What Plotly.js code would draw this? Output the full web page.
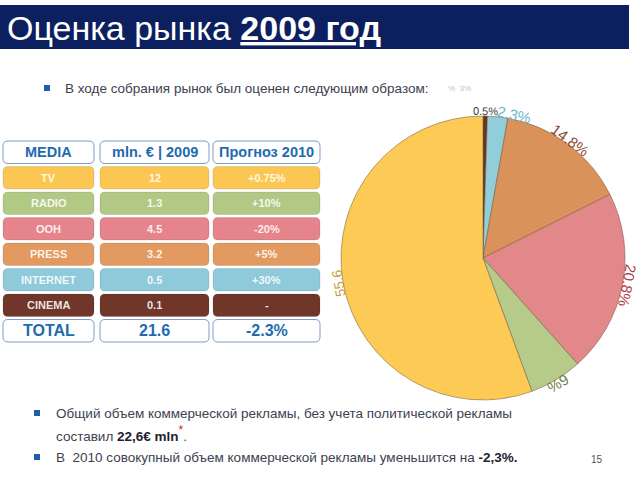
<!DOCTYPE html>
<html><head><meta charset="utf-8">
<script src="https://cdn.plot.ly/plotly-3.0.1.min.js"></script>
<style>html,body{margin:0;padding:0;background:#fff}#chart{width:640px;height:480px}</style>
</head><body><div id="chart"></div>
<script>
// ---- data ----
const media = ['TV', 'RADIO', 'OOH', 'PRESS', 'INTERNET', 'CINEMA'];
const mln2009 = ['12', '1.3', '4.5', '3.2', '0.5', '0.1'];
const forecast2010 = ['+0.75%', '+10%', '-20%', '+5%', '+30%', '-'];
const sharePct = [55.6, 6, 20.8, 14.8, 2.3, 0.5];
const shareText = ['55.6', '6%', '20.8%', '14.8%', '2.3%', '0.5%'];
const headers = ['MEDIA', 'mln. € | 2009', 'Прогноз 2010'];
const totals = ['TOTAL', '21.6', '-2.3%'];

// ---- styles ----
const rowColors = ['#FBC651', '#B2C885', '#E5848A', '#E39A60', '#8ECAD9', '#70362A'];
const pieColors = ['#FECA56', '#B6CB8A', '#E2888A', '#D9925A', '#92CDDA', '#6C3124'];
const labelColors = ['#C79C3C', '#6E8242', '#B03A44', '#8E4A28', '#6DB6CB', '#3A3A3A'];
const labelSizes = [14, 15, 15, 15, 15, 11];
const FONT = 'Liberation Sans, Arial, sans-serif';
const BLUE = '#1E6BB0';

const W = 640, H = 480;
const X = x => x / W, Y = y => 1 - y / H;
function rr(x0, y0, x1, y1, r) {
  return `M${X(x0 + r)},${Y(y0)} L${X(x1 - r)},${Y(y0)} Q${X(x1)},${Y(y0)} ${X(x1)},${Y(y0 + r)} ` +
    `L${X(x1)},${Y(y1 - r)} Q${X(x1)},${Y(y1)} ${X(x1 - r)},${Y(y1)} L${X(x0 + r)},${Y(y1)} ` +
    `Q${X(x0)},${Y(y1)} ${X(x0)},${Y(y1 - r)} L${X(x0)},${Y(y0 + r)} Q${X(x0)},${Y(y0)} ${X(x0 + r)},${Y(y0)} Z`;
}

const shapes = [];
const ann = [];

// title bar
shapes.push({type: 'rect', xref: 'paper', yref: 'paper', x0: X(0), x1: X(629), y0: Y(49), y1: Y(5),
  fillcolor: '#0C1F5E', line: {width: 0}, layer: 'below'});
ann.push({xref: 'paper', yref: 'paper', x: X(5), y: Y(28), xanchor: 'left', yanchor: 'middle', showarrow: false,
  text: 'Оценка рынка <b><u>2009 год</u></b>', font: {family: FONT, size: 34, color: '#FFFFFF'}});

// subtitle
shapes.push({type: 'rect', xref: 'paper', yref: 'paper', x0: X(44), x1: X(50), y0: Y(91), y1: Y(85),
  fillcolor: '#1F5FA8', line: {width: 0}});
ann.push({xref: 'paper', yref: 'paper', x: X(63), y: Y(88.5), xanchor: 'left', yanchor: 'middle', showarrow: false,
  text: 'В ходе собрания рынок был оценен следующим образом:', font: {family: FONT, size: 13.5, color: '#3C4150'}});
ann.push({xref: 'paper', yref: 'paper', x: X(446), y: Y(88), xanchor: 'left', yanchor: 'middle', showarrow: false,
  text: '%  3%', font: {family: FONT, size: 8, color: '#C4C4C4'}});

// table
const cols = [[3, 94], [100, 209], [213, 320]];
const rowTop = i => 141 + i * 25.5;
const rowH = 22.5;
function cell(ci, ri, txt, fill, lineCol, fsize, fcol) {
  const [x0, x1] = cols[ci];
  const y0 = rowTop(ri), y1 = y0 + rowH;
  shapes.push({type: 'path', xref: 'paper', yref: 'paper', path: rr(x0, y0, x1, y1, 5),
    fillcolor: fill, line: {color: lineCol, width: 1}});
  ann.push({xref: 'paper', yref: 'paper', x: X((x0 + x1) / 2), y: Y((y0 + y1) / 2), xanchor: 'center', yanchor: 'middle',
    showarrow: false, text: '<b>' + txt + '</b>', font: {family: FONT, size: fsize, color: fcol}});
}
headers.forEach((h, c) => cell(c, 0, h, '#FFFFFF', '#7E9DC4', 14.5, BLUE));
media.forEach((m, r) => {
  const row = [m, mln2009[r], forecast2010[r]];
  row.forEach((t, c) => cell(c, r + 1, t, rowColors[r], 'rgba(0,0,0,0.10)', 11, 'rgba(255,255,255,0.88)'));
});
totals.forEach((t, c) => cell(c, media.length + 1, t, '#FFFFFF', '#7E9DC4', 16, BLUE));

// pie geometry
const cx = 483, cy = 258, R = 142;
const pieDomain = {x: [X(cx - R), X(cx + R)], y: [Y(cy + R), Y(cy - R)]};

// pie labels (rotated tangentially), computed from data
const total = sharePct.reduce((a, b) => a + b, 0);
let cum = 0;
const labs = sharePct.map((v, i) => {
  const midCCW = (cum + v / 2) / total * 360; cum += v;
  const theta = 360 - midCCW; // clockwise from top
  return {i, theta, w: shareText[i].length * labelSizes[i] * 0.56};
});
labs.sort((a, b) => a.theta - b.theta);
const LR = 147;
for (let k = 1; k < labs.length; k++) {
  const a = labs[k - 1], b = labs[k];
  const need = (a.w + b.w) / 2;
  const dist = (b.theta - a.theta) * Math.PI / 180 * LR;
  if (dist < need) b.theta = a.theta + need / LR * 180 / Math.PI;
}
labs.forEach(l => {
  const t = l.theta * Math.PI / 180;
  const lx = cx + LR * Math.sin(t), ly = cy - LR * Math.cos(t);
  let ang = l.theta > 180 ? l.theta - 360 : l.theta;
  ann.push({xref: 'paper', yref: 'paper', x: X(lx), y: Y(ly), xanchor: 'center', yanchor: 'middle', showarrow: false,
    textangle: ang, text: shareText[l.i], font: {family: FONT, size: labelSizes[l.i], color: labelColors[l.i]}});
});

// bottom bullets
shapes.push({type: 'rect', xref: 'paper', yref: 'paper', x0: X(34), x1: X(40), y0: Y(416), y1: Y(410),
  fillcolor: '#1F5FA8', line: {width: 0}});
shapes.push({type: 'rect', xref: 'paper', yref: 'paper', x0: X(34), x1: X(40), y0: Y(460), y1: Y(454),
  fillcolor: '#1F5FA8', line: {width: 0}});
ann.push({xref: 'paper', yref: 'paper', x: X(54), y: Y(413), xanchor: 'left', yanchor: 'middle', showarrow: false,
  text: 'Общий объем коммерческой рекламы, без учета политической рекламы', font: {family: FONT, size: 13.5, color: '#3C4150'}});
ann.push({xref: 'paper', yref: 'paper', x: X(54), y: Y(433), xanchor: 'left', yanchor: 'middle', showarrow: false,
  text: 'составил <b><span style="color:#1E2230">22,6€ mln</span></b><span style="color:#E02020;font-size:17px"><sup>*</sup></span>.',
  font: {family: FONT, size: 13.5, color: '#3C4150'}});
ann.push({xref: 'paper', yref: 'paper', x: X(54), y: Y(457), xanchor: 'left', yanchor: 'middle', showarrow: false,
  text: 'В  2010 совокупный объем коммерческой рекламы уменьшится на <b><span style="color:#1E2230">-2,3%.</span></b>',
  font: {family: FONT, size: 13.5, color: '#3C4150'}});
ann.push({xref: 'paper', yref: 'paper', x: X(597), y: Y(459), xanchor: 'center', yanchor: 'middle', showarrow: false,
  text: '15', font: {family: FONT, size: 10, color: '#555555'}});

// pie drawn clockwise from 12 o'clock, starting with the last category (CINEMA)
const pieOrder = media.map((_, i) => i).reverse();
const pie = {
  type: 'pie', values: pieOrder.map(i => sharePct[i]), labels: pieOrder.map(i => media[i]),
  sort: false, direction: 'clockwise', rotation: 0,
  textinfo: 'none', hoverinfo: 'label+percent', showlegend: false, domain: pieDomain,
  marker: {colors: pieOrder.map(i => pieColors[i]), line: {color: 'rgba(110,90,60,0.65)', width: 0.8}}
};

Plotly.newPlot('chart', [pie], {
  width: W, height: H, margin: {l: 0, r: 0, t: 0, b: 0}, paper_bgcolor: '#FFFFFF', plot_bgcolor: '#FFFFFF',
  showlegend: false, shapes: shapes, annotations: ann
}, {staticPlot: true});
</script></body></html>
